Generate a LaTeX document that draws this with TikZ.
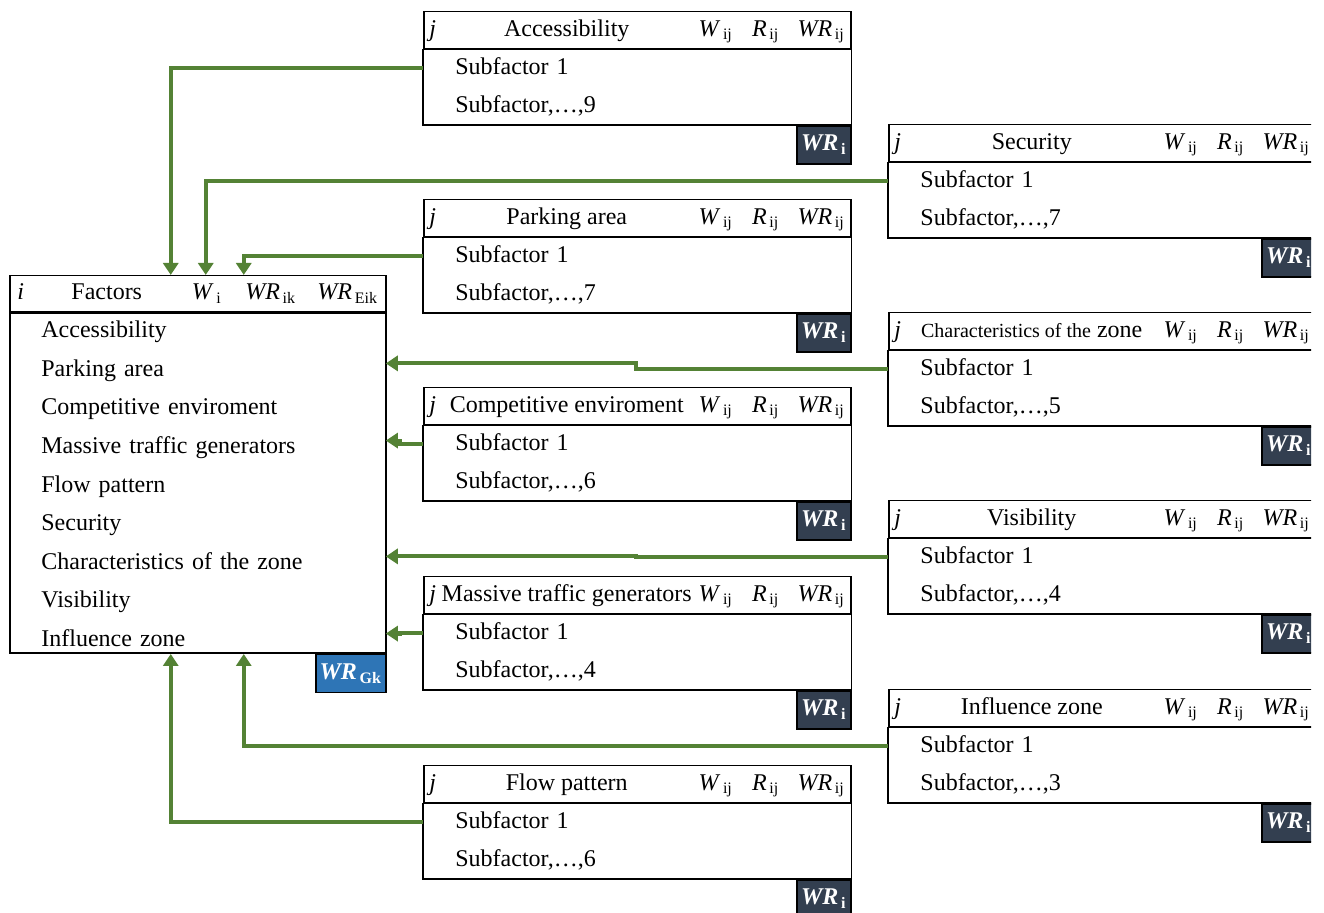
\documentclass[tikz,border=0pt]{standalone}
\usepackage{fontspec}
\setmainfont{Liberation Serif}
\usepackage{tikz}
\usetikzlibrary{arrows.meta, positioning, calc}
\tikzset{every node/.style={font=\fontsize{12}{14}\selectfont}}
\usepackage{xcolor}
\definecolor{flowgreen}{HTML}{548235}
\definecolor{wrdark}{HTML}{333F50}
\definecolor{gkblue}{HTML}{2E75B6}
\newcommand{\subhd}[1]{\makebox[9pt]{\textit{j}}\makebox[125pt]{#1}\makebox[24pt]{\textit{W}\textsubscript{\,ij}}\makebox[26pt]{\textit{R}\textsubscript{\,ij}}\makebox[29.5pt]{\textit{WR}\textsubscript{\,ij}}}
\newcommand{\wrsub}[1]{WR\textsubscript{\,\normalfont\bfseries #1}}

\begin{document}
\begin{tikzpicture}[
        x=0.5pt, y=-0.5pt,
        >={Triangle[length=6pt, width=7.5pt]},
        boxline/.style={draw, line width=0.75pt},
        hdbox/.style={boxline, minimum width=213.5pt, minimum height=18.5pt, inner sep=0pt, text height=8.5pt, text depth=2.5pt, anchor=north west},
        subrow/.style={text width=197.5pt, minimum height=18.5pt, inner sep=0pt, text height=8.5pt, text depth=2.5pt, align=left, anchor=north west},
        facrow/.style={text width=172pt, minimum height=18.9pt, inner sep=0pt, text height=8.5pt, text depth=2.5pt, align=left, anchor=north west},
        wrbox/.style={boxline, fill=wrdark, text=white, minimum width=27pt, minimum height=19pt, inner sep=0pt, text height=8.5pt, text depth=2.5pt, anchor=north east, font=\fontsize{12}{14}\selectfont\bfseries\itshape},
        flow/.style={->, color=flowgreen, line width=2pt},
      ]
        \useasboundingbox (0,0) rectangle (1324,913);
        \begin{scope}
        \clip (0,0) rectangle (1311,913);
        % main factors box
        \node[boxline, minimum width=188pt, minimum height=18pt, inner sep=0pt, text height=8.5pt, text depth=2.5pt, anchor=north west] (fhd) at (9,275) {\makebox[11pt]{\textit{i}}\makebox[75pt]{Factors}\makebox[25pt]{\textit{W}\textsubscript{\,i}}\makebox[39pt]{\textit{WR}\textsubscript{\,ik}}\makebox[38pt]{\textit{WR}\textsubscript{\,Eik}}};
        \node[boxline, minimum width=188pt, minimum height=170pt, inner sep=0pt, anchor=north west] (fac) at (fhd.south west) {};
        \node[facrow] (f1) at ([xshift=16pt]fac.north west) {Accessibility};
        \node[facrow, below=0pt of f1] (f2) {Parking area};
        \node[facrow, below=0pt of f2] (f3) {Competitive enviroment};
        \node[facrow, below=0pt of f3] (f4) {Massive traffic generators};
        \node[facrow, below=0pt of f4] (f5) {Flow pattern};
        \node[facrow, below=0pt of f5] (f6) {Security};
        \node[facrow, below=0pt of f6] (f7) {Characteristics of the zone};
        \node[facrow, below=0pt of f7] (f8) {Visibility};
        \node[facrow, below=0pt of f8] (f9) {Influence zone};
        \node[wrbox, fill=gkblue, minimum width=35pt] (gk) at (fac.south east) {\wrsub{Gk}};

        % accessibility
        \node[hdbox] (acc) at (423,11) {\subhd{Accessibility}};
        \node[subrow] (acc1) at ([xshift=16pt]acc.south west) {Subfactor 1};
        \node[subrow, below=0pt of acc1] (acc2) {Subfactor,\dots,9};
        \draw[boxline] (acc.south west) rectangle (acc2.south -| acc.east);
        \node[wrbox] (accwr) at (acc2.south -| acc.east) {\wrsub{i}};

        % parking area
        \node[hdbox] (par) at (423,199) {\subhd{Parking area}};
        \node[subrow] (par1) at ([xshift=16pt]par.south west) {Subfactor 1};
        \node[subrow, below=0pt of par1] (par2) {Subfactor,\dots,7};
        \draw[boxline] (par.south west) rectangle (par2.south -| par.east);
        \node[wrbox] (parwr) at (par2.south -| par.east) {\wrsub{i}};

        % competitive enviroment
        \node[hdbox] (com) at (423,387) {\subhd{Competitive enviroment}};
        \node[subrow] (com1) at ([xshift=16pt]com.south west) {Subfactor 1};
        \node[subrow, below=0pt of com1] (com2) {Subfactor,\dots,6};
        \draw[boxline] (com.south west) rectangle (com2.south -| com.east);
        \node[wrbox] (comwr) at (com2.south -| com.east) {\wrsub{i}};

        % massive traffic generators
        \node[hdbox] (mas) at (423,576) {\subhd{Massive traffic generators}};
        \node[subrow] (mas1) at ([xshift=16pt]mas.south west) {Subfactor 1};
        \node[subrow, below=0pt of mas1] (mas2) {Subfactor,\dots,4};
        \draw[boxline] (mas.south west) rectangle (mas2.south -| mas.east);
        \node[wrbox] (maswr) at (mas2.south -| mas.east) {\wrsub{i}};

        % flow pattern
        \node[hdbox] (flo) at (423,765) {\subhd{Flow pattern}};
        \node[subrow] (flo1) at ([xshift=16pt]flo.south west) {Subfactor 1};
        \node[subrow, below=0pt of flo1] (flo2) {Subfactor,\dots,6};
        \draw[boxline] (flo.south west) rectangle (flo2.south -| flo.east);
        \node[wrbox] (flowr) at (flo2.south -| flo.east) {\wrsub{i}};

        % security
        \node[hdbox] (sec) at (888,124) {\subhd{Security}};
        \node[subrow] (sec1) at ([xshift=16pt]sec.south west) {Subfactor 1};
        \node[subrow, below=0pt of sec1] (sec2) {Subfactor,\dots,7};
        \draw[boxline] (sec.south west) rectangle (sec2.south -| sec.east);
        \node[wrbox] (secwr) at (sec2.south -| sec.east) {\wrsub{i}};

        % characteristics of the zone
        \node[hdbox] (cha) at (888,312) {\subhd{{\fontsize{10}{12}\selectfont Characteristics of the} zone}};
        \node[subrow] (cha1) at ([xshift=16pt]cha.south west) {Subfactor 1};
        \node[subrow, below=0pt of cha1] (cha2) {Subfactor,\dots,5};
        \draw[boxline] (cha.south west) rectangle (cha2.south -| cha.east);
        \node[wrbox] (chawr) at (cha2.south -| cha.east) {\wrsub{i}};

        % visibility
        \node[hdbox] (vis) at (888,500) {\subhd{Visibility}};
        \node[subrow] (vis1) at ([xshift=16pt]vis.south west) {Subfactor 1};
        \node[subrow, below=0pt of vis1] (vis2) {Subfactor,\dots,4};
        \draw[boxline] (vis.south west) rectangle (vis2.south -| vis.east);
        \node[wrbox] (viswr) at (vis2.south -| vis.east) {\wrsub{i}};

        % influence zone
        \node[hdbox] (inf) at (888,689) {\subhd{Influence zone}};
        \node[subrow] (inf1) at ([xshift=16pt]inf.south west) {Subfactor 1};
        \node[subrow, below=0pt of inf1] (inf2) {Subfactor,\dots,3};
        \draw[boxline] (inf.south west) rectangle (inf2.south -| inf.east);
        \node[wrbox] (infwr) at (inf2.south -| inf.east) {\wrsub{i}};

        % connectors
        \draw[flow] (acc1 -| acc.west) -| ([xshift=-13.5pt]fhd.north);
        \draw[flow] (sec1 -| sec.west) -| ([xshift=4pt]fhd.north);
        \draw[flow] (par1 -| par.west) -| ([xshift=23pt]fhd.north);
        \draw[flow] (cha1 -| cha.west) -- ++(-126pt,0) |- ([yshift=3.5pt]f2.east);
        \draw[flow] (com1 -| com.west) -- ++(-11.5pt,0) |- ([yshift=3.5pt]f4.east);
        \draw[flow] (vis1 -| vis.west) -- ++(-126pt,0) |- ([yshift=3.5pt]f7.east);
        \draw[flow] (mas1 -| mas.west) -- ++(-11.5pt,0) |- ([yshift=3.5pt]f9.east);
        \draw[flow] (inf1 -| inf.west) -| ([xshift=23pt]fac.south);
        \draw[flow] (flo1 -| flo.west) -| ([xshift=-13.5pt]fac.south);
        \end{scope}
      \end{tikzpicture}
\end{document}
